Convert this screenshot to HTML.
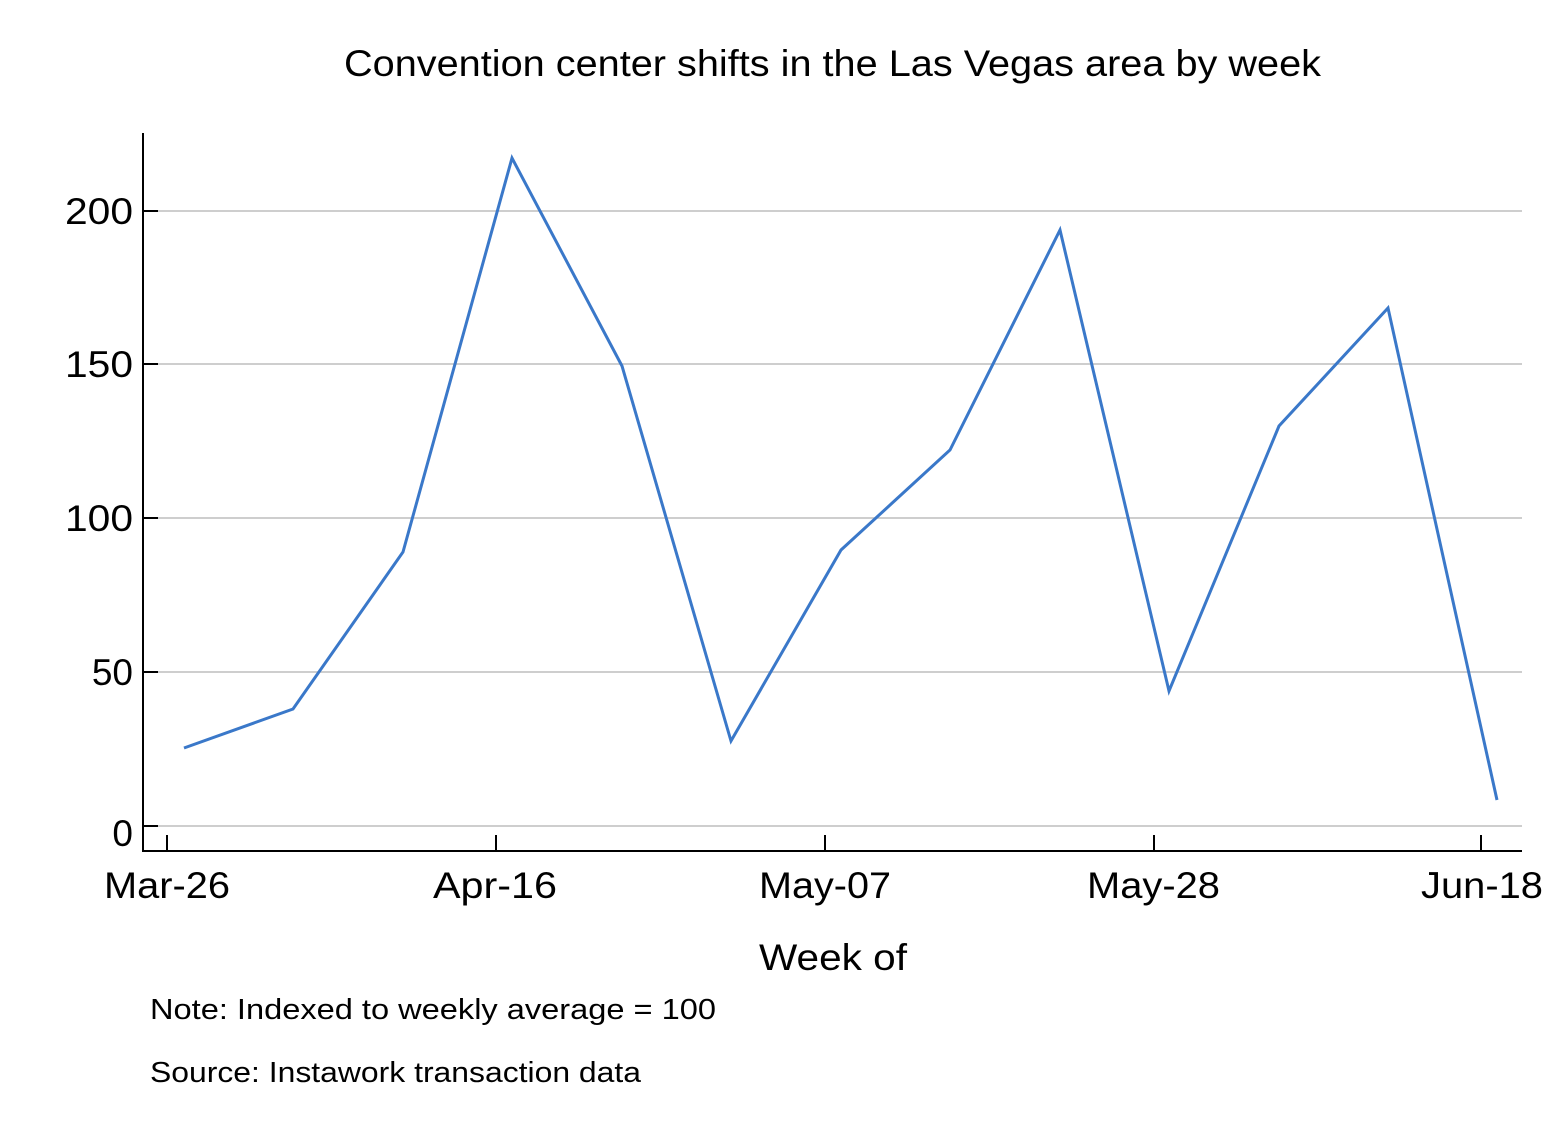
<!DOCTYPE html>
<html><head><style>body{margin:0;background:#fff}</style></head><body>
<svg width="1564" height="1138" xmlns="http://www.w3.org/2000/svg" font-family="Liberation Sans, sans-serif">
<rect width="1564" height="1138" fill="#fff"/>
<text x="344" y="76" font-size="37" textLength="977" lengthAdjust="spacingAndGlyphs" fill="#000">Convention center shifts in the Las Vegas area by week</text>
<g stroke="#bdbdbd" stroke-width="1.5">
<line x1="143" y1="211" x2="1522" y2="211"/>
<line x1="143" y1="364" x2="1522" y2="364"/>
<line x1="143" y1="518" x2="1522" y2="518"/>
<line x1="143" y1="672" x2="1522" y2="672"/>
<line x1="143" y1="826" x2="1522" y2="826"/>
</g>
<g stroke="#000" stroke-width="2">
<line x1="143" y1="133" x2="143" y2="852"/>
<line x1="142" y1="851" x2="1522" y2="851"/>
<line x1="143" y1="211" x2="158" y2="211"/>
<line x1="143" y1="364" x2="158" y2="364"/>
<line x1="143" y1="518" x2="158" y2="518"/>
<line x1="143" y1="672" x2="158" y2="672"/>
<line x1="143" y1="826" x2="158" y2="826"/>
<line x1="167" y1="835" x2="167" y2="851"/>
<line x1="496" y1="835" x2="496" y2="851"/>
<line x1="825" y1="835" x2="825" y2="851"/>
<line x1="1154" y1="835" x2="1154" y2="851"/>
<line x1="1481" y1="835" x2="1481" y2="851"/>
</g>
<g font-size="37" text-anchor="end" fill="#000">
<text x="133" y="224" textLength="68" lengthAdjust="spacingAndGlyphs">200</text>
<text x="133" y="377" textLength="68" lengthAdjust="spacingAndGlyphs">150</text>
<text x="133" y="531" textLength="68" lengthAdjust="spacingAndGlyphs">100</text>
<text x="133" y="685">50</text>
<text x="133" y="846">0</text>
</g>
<g font-size="37" fill="#000">
<text x="104" y="898" textLength="126" lengthAdjust="spacingAndGlyphs">Mar-26</text>
<text x="433" y="898" textLength="124" lengthAdjust="spacingAndGlyphs">Apr-16</text>
<text x="759" y="898" textLength="132" lengthAdjust="spacingAndGlyphs">May-07</text>
<text x="1087" y="898" textLength="133" lengthAdjust="spacingAndGlyphs">May-28</text>
<text x="1421" y="898" textLength="122" lengthAdjust="spacingAndGlyphs">Jun-18</text>
<text x="759" y="970" textLength="148" lengthAdjust="spacingAndGlyphs">Week of</text>
</g>
<text x="150" y="1019" font-size="29" textLength="566" lengthAdjust="spacingAndGlyphs" fill="#000">Note: Indexed to weekly average = 100</text>
<text x="150" y="1082" font-size="29" textLength="491" lengthAdjust="spacingAndGlyphs" fill="#000">Source: Instawork transaction data</text>
<polyline fill="none" stroke="#3a78c9" stroke-width="3" stroke-linejoin="miter" points="184,748 293,709 403,552 512,158 622,366 731,741 841,550 950,450 1060,230 1169,691 1279,426 1388,308 1497,800"/>
</svg>
</body></html>
